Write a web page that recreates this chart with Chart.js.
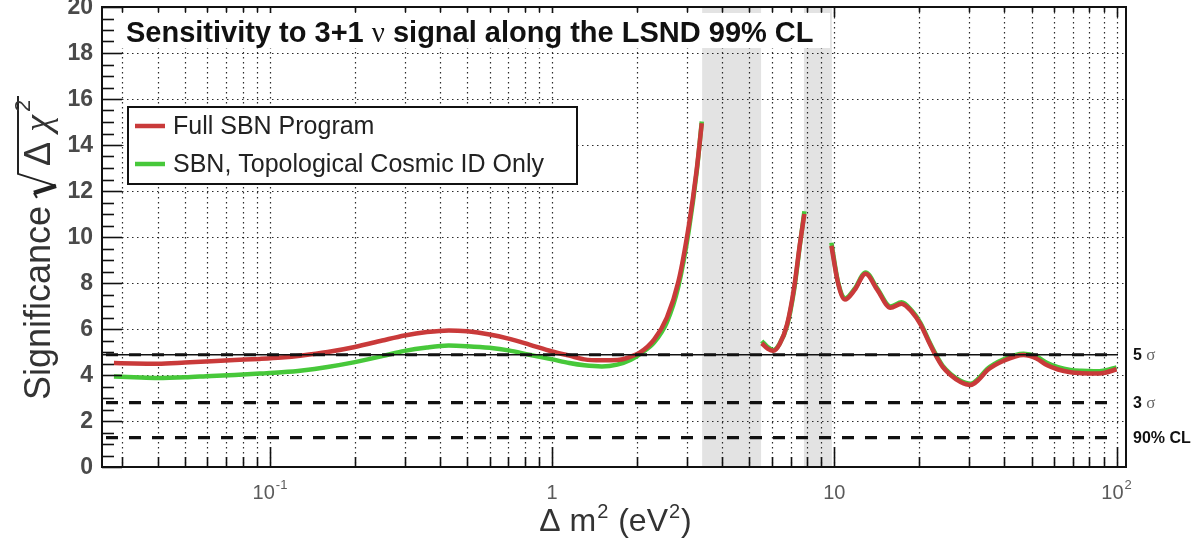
<!DOCTYPE html>
<html>
<head>
<meta charset="utf-8">
<script src="https://cdn.jsdelivr.net/npm/chart.js@4.4.0/dist/chart.umd.min.js"></script>
<style>
  html, body { margin: 0; padding: 0; background: #ffffff; }
  #wrap { width: 1198px; height: 542px; position: relative; }
</style>
</head>
<body>
<div id="wrap"><canvas id="sens" width="1198" height="542"></canvas></div>
<script>
// Δm² grid (eV²); the null rows split the curve where the excluded regions sit
const massSplit = [
  0.028, 0.033, 0.04, 0.05, 0.062, 0.075, 0.092, 0.11, 0.13, 0.16,
  0.2, 0.25, 0.3, 0.36, 0.43, 0.5, 0.6, 0.7, 0.83, 1.0,
  1.15, 1.3, 1.5, 1.7, 1.9, 2.05, 2.3, 2.55, 2.8, 3.05,
  3.25, 3.39,
  4.4,
  5.53, 5.8, 6.08, 6.4, 6.8, 7.2, 7.55, 7.83,
  8.8,
  9.76, 10.3, 10.9, 11.8, 12.9, 14.2, 15.8, 17.3, 18.8, 20.2,
  21.5, 22.8, 24.2, 25.8, 28, 30.4, 32.5, 34.8, 39.8, 46.8,
  52, 56.8, 62, 68.6, 75, 83, 91, 100
];

// sqrt(Δχ²) for the full SBN program
const fullSbn = [
  4.52, 4.50, 4.49, 4.54, 4.60, 4.65, 4.70, 4.76, 4.85, 5.00,
  5.22, 5.50, 5.72, 5.87, 5.94, 5.90, 5.76, 5.58, 5.32, 5.02,
  4.84, 4.68, 4.64, 4.65, 4.80, 4.98, 5.55, 6.50, 8.05, 10.5,
  12.9, 14.95,
  null,
  5.38, 5.15, 5.05, 5.35, 6.20, 7.80, 9.70, 11.0,
  null,
  9.62, 8.00, 7.28, 7.70, 8.40, 7.70, 6.92, 7.10, 6.75, 6.20,
  5.50, 4.88, 4.35, 4.00, 3.70, 3.57, 3.80, 4.20, 4.62, 4.87,
  4.72, 4.42, 4.24, 4.12, 4.08, 4.06, 4.10, 4.25
];

// sqrt(Δχ²) with topological cosmic ID only
const cosmicIdOnly = [
  3.93, 3.90, 3.87, 3.90, 3.96, 4.00, 4.06, 4.12, 4.20, 4.35,
  4.56, 4.82, 5.05, 5.20, 5.28, 5.25, 5.18, 5.07, 4.88, 4.68,
  4.52, 4.42, 4.37, 4.45, 4.66, 4.92, 5.42, 6.30, 7.85, 10.3,
  12.8, 15.02,
  null,
  5.48, 5.22, 5.08, 5.36, 6.15, 7.70, 9.65, 11.12,
  null,
  9.75, 8.05, 7.33, 7.75, 8.46, 7.76, 6.98, 7.16, 6.80, 6.26,
  5.55, 4.93, 4.40, 4.05, 3.75, 3.62, 3.86, 4.26, 4.68, 4.92,
  4.80, 4.52, 4.34, 4.22, 4.18, 4.16, 4.20, 4.33
];

// shaded Δm² ranges
const bandLow  = [3.4, 7.8];
const bandHigh = [5.5, 9.8];

// significance thresholds
const refLevels = [4.88, 2.8, 1.28];
const refMain   = ['5', '3', '90% CL'];
const refSigma  = [true, true, false];

// axis labels
const yTickValues = [0, 2, 4, 6, 8, 10, 12, 14, 16, 18, 20];
const xLabelValues = [0.1, 1, 10, 100];
const xLabelBase   = ['10', '1', '10', '10'];
const xLabelExp    = ['-1', '', '', '2'];

const seriesNames  = ['Full SBN Program', 'SBN, Topological Cosmic ID Only'];
const seriesColors = ['#c93a3a', '#47c83a'];

const X_MIN = 0.0254, X_MAX = 108;
const SANS = '"Liberation Sans", Arial, Helvetica, sans-serif';
const SERIF = '"Liberation Serif", "DejaVu Serif", Times, serif';

function logTicks() {
  const out = [];
  for (let e = -2; e <= 2; e++) {
    for (let m = 1; m <= 9; m++) {
      const v = m * Math.pow(10, e);
      if (v >= X_MIN && v <= X_MAX) out.push({ v, major: m === 1 });
    }
  }
  return out;
}

function seg(ctx, x0, y0, x1, y1) {
  ctx.beginPath(); ctx.moveTo(x0, y0); ctx.lineTo(x1, y1); ctx.stroke();
}

const rootStyle = {
  id: 'rootStyle',
  beforeDatasetsDraw(chart) {
    const { ctx, chartArea: a, scales: { x, y } } = chart;
    ctx.save();
    // shaded ranges
    ctx.fillStyle = '#e3e3e3';
    for (let i = 0; i < bandLow.length; i++) {
      const x0 = x.getPixelForValue(bandLow[i]);
      const x1 = x.getPixelForValue(bandHigh[i]);
      ctx.fillRect(x0, a.top, x1 - x0, a.bottom - a.top);
    }
    // dotted grid
    ctx.strokeStyle = 'rgba(20,20,20,0.9)';
    ctx.lineWidth = 1.2;
    ctx.setLineDash([1.5, 3.5]);
    for (const t of logTicks()) {
      const px = Math.round(x.getPixelForValue(t.v)) + 0.5;
      seg(ctx, px, a.top, px, a.bottom);
    }
    for (let v = 2; v < 20; v += 2) {
      const py = Math.round(y.getPixelForValue(v)) + 0.5;
      seg(ctx, a.left, py, a.right, py);
    }
    ctx.restore();
  },
  afterDatasetsDraw(chart) {
    const { ctx, chartArea: a, scales: { x, y } } = chart;
    ctx.save();

    // threshold lines
    ctx.strokeStyle = '#111';
    refLevels.forEach((lv, i) => {
      const py = y.getPixelForValue(lv);
      if (i === 0) {
        ctx.setLineDash([]);
        ctx.lineWidth = 1.5;
        seg(ctx, a.left, py, a.right - 8, py);
      }
      ctx.setLineDash([12, 11]);
      ctx.lineWidth = 3.2;
      ctx.lineDashOffset = -2;
      seg(ctx, a.left + 2, py, a.right - 8, py);
    });
    ctx.setLineDash([]);

    // frame
    ctx.strokeStyle = '#111';
    ctx.lineWidth = 2;
    ctx.strokeRect(a.left, a.top, a.right - a.left, a.bottom - a.top);

    // y ticks (inside)
    ctx.lineWidth = 1.6;
    for (let v = 0; v <= 20.001; v += 0.5) {
      const py = Math.round(y.getPixelForValue(v)) + 0.5;
      const len = (Math.abs(v % 2) < 1e-6) ? 20 : 12;
      seg(ctx, a.left, py, a.left + len, py);
    }
    // x ticks (inside, bottom and top)
    for (const t of logTicks()) {
      const px = Math.round(x.getPixelForValue(t.v)) + 0.5;
      seg(ctx, px, a.bottom, px, a.bottom - (t.major ? 20 : 10));
      seg(ctx, px, a.top, px, a.top + (t.major ? 10 : 5));
    }

    // y tick labels
    ctx.fillStyle = '#4a4a4a';
    ctx.font = 'bold 23px ' + SANS;
    ctx.textAlign = 'right';
    ctx.textBaseline = 'middle';
    yTickValues.forEach(v => ctx.fillText(String(v), a.left - 9, y.getPixelForValue(v) + 1));

    // x tick labels with exponents
    ctx.fillStyle = '#5a5a5a';
    ctx.textBaseline = 'alphabetic';
    ctx.textAlign = 'left';
    xLabelValues.forEach((v, i) => {
      const px = x.getPixelForValue(v);
      ctx.font = '20px ' + SANS;
      const wb = ctx.measureText(xLabelBase[i]).width;
      ctx.font = '13px ' + SANS;
      const we = xLabelExp[i] ? ctx.measureText(xLabelExp[i]).width + 1 : 0;
      const x0 = px - (wb + we) / 2;
      ctx.font = '20px ' + SANS;
      ctx.fillText(xLabelBase[i], x0, 499);
      if (xLabelExp[i]) {
        ctx.font = '13px ' + SANS;
        ctx.fillText(xLabelExp[i], x0 + wb + 1, 489);
      }
    });

    // threshold labels on the right
    refLevels.forEach((lv, i) => {
      const py = y.getPixelForValue(lv) + 1;
      ctx.textBaseline = 'middle';
      ctx.fillStyle = '#111';
      ctx.font = 'bold 16px ' + SANS;
      ctx.fillText(refMain[i], a.right + 7, py);
      if (refSigma[i]) {
        const w = ctx.measureText(refMain[i] + ' ').width;
        ctx.fillStyle = '#666';
        ctx.font = '17px ' + SERIF;
        ctx.fillText('σ', a.right + 7 + w, py);
      }
    });

    // x axis title: Δ m² (eV²)
    ctx.fillStyle = '#333';
    ctx.textBaseline = 'alphabetic';
    {
      const big = '32px ' + SANS, sup = '20px ' + SANS;
      const parts = [['Δ m', big, 0], ['2', sup, -13], [' (eV', big, 0], ['2', sup, -13], [')', big, 0]];
      let total = 0;
      parts.forEach(p => { ctx.font = p[1]; total += ctx.measureText(p[0]).width + 1; });
      let cx = 616 - total / 2;
      parts.forEach(p => { ctx.font = p[1]; ctx.fillText(p[0], cx, 531 + p[2]); cx += ctx.measureText(p[0]).width + 1; });
    }

    // y axis title: Significance √(Δχ²)
    ctx.save();
    ctx.translate(50, 400);
    ctx.rotate(-Math.PI / 2);
    ctx.fillStyle = '#333';
    ctx.strokeStyle = '#222';
    ctx.font = '36px ' + SANS;
    ctx.fillText('Significance', 0, 0);
    const rx = ctx.measureText('Significance').width + 8;
    ctx.font = '36px ' + SANS;
    const wD = ctx.measureText('Δ').width;
    ctx.font = 'italic 38px ' + SERIF;
    const wC = ctx.measureText('χ').width;
    ctx.font = '22px ' + SANS;
    const w2 = ctx.measureText('2').width;
    const top = -32;
    const inner = 8 + wD + 10 + wC + 3 + w2 + 4;
    ctx.lineWidth = 2;
    ctx.beginPath();
    ctx.moveTo(rx, -13);
    ctx.lineTo(rx + 5, -16);
    ctx.stroke();
    ctx.lineWidth = 4.5;
    ctx.beginPath();
    ctx.moveTo(rx + 5, -16);
    ctx.lineTo(rx + 12, 6);
    ctx.stroke();
    ctx.lineWidth = 2;
    ctx.beginPath();
    ctx.moveTo(rx + 12, 6);
    ctx.lineTo(rx + 24, top);
    ctx.lineTo(rx + 24 + inner, top);
    ctx.stroke();
    let tx = rx + 24 + 8;
    ctx.font = '36px ' + SANS;
    ctx.fillText('Δ', tx, 0);
    tx += wD + 10;
    ctx.font = 'italic 38px ' + SERIF;
    ctx.fillText('χ', tx, 0);
    tx += wC + 3;
    ctx.font = '22px ' + SANS;
    ctx.fillText('2', tx, -20);
    ctx.restore();

    // in-frame title
    ctx.fillStyle = '#ffffff';
    ctx.fillRect(118, 13, 712, 35);
    ctx.fillStyle = '#111';
    ctx.textBaseline = 'alphabetic';
    {
      const b = 'bold 29px ' + SANS, g = '29px ' + SERIF;
      const parts = [['Sensitivity to 3+1 ', b], ['ν', g], [' signal along the LSND 99% CL', b]];
      let cx = 126;
      parts.forEach(p => { ctx.font = p[1]; ctx.fillText(p[0], cx, 42); cx += ctx.measureText(p[0]).width; });
    }

    // legend
    ctx.fillStyle = '#ffffff';
    ctx.fillRect(128, 107, 449, 77);
    ctx.strokeStyle = '#111';
    ctx.lineWidth = 2;
    ctx.strokeRect(128, 107, 449, 77);
    ctx.font = '25px ' + SANS;
    ctx.textBaseline = 'middle';
    seriesNames.forEach((name, i) => {
      const ly = 126 + i * 38;
      ctx.strokeStyle = seriesColors[i];
      ctx.lineWidth = 4.5;
      seg(ctx, 135, ly, 165, ly);
      ctx.fillStyle = '#222';
      ctx.fillText(name, 173, ly + 1);
    });

    ctx.restore();
  }
};

function pairs(ys) {
  return massSplit.map((m, i) => ({ x: m, y: ys[i] }));
}

new Chart(document.getElementById('sens'), {
  type: 'line',
  data: {
    datasets: [
      {
        label: seriesNames[0],
        data: pairs(fullSbn),
        borderColor: seriesColors[0],
        borderWidth: 4.5,
        pointRadius: 0,
        cubicInterpolationMode: 'monotone',
        spanGaps: false,
        fill: false
      },
      {
        label: seriesNames[1],
        data: pairs(cosmicIdOnly),
        borderColor: seriesColors[1],
        borderWidth: 4.5,
        pointRadius: 0,
        cubicInterpolationMode: 'monotone',
        spanGaps: false,
        fill: false
      }
    ]
  },
  options: {
    responsive: false,
    animation: false,
    events: [],
    layout: { padding: { left: 102, right: 72, top: 7, bottom: 75 } },
    scales: {
      x: { type: 'logarithmic', min: X_MIN, max: X_MAX, display: false },
      y: { type: 'linear', min: 0, max: 20, display: false }
    },
    plugins: {
      legend: { display: false },
      tooltip: { enabled: false },
      title: { display: false }
    }
  },
  plugins: [rootStyle]
});
</script>
</body>
</html>
